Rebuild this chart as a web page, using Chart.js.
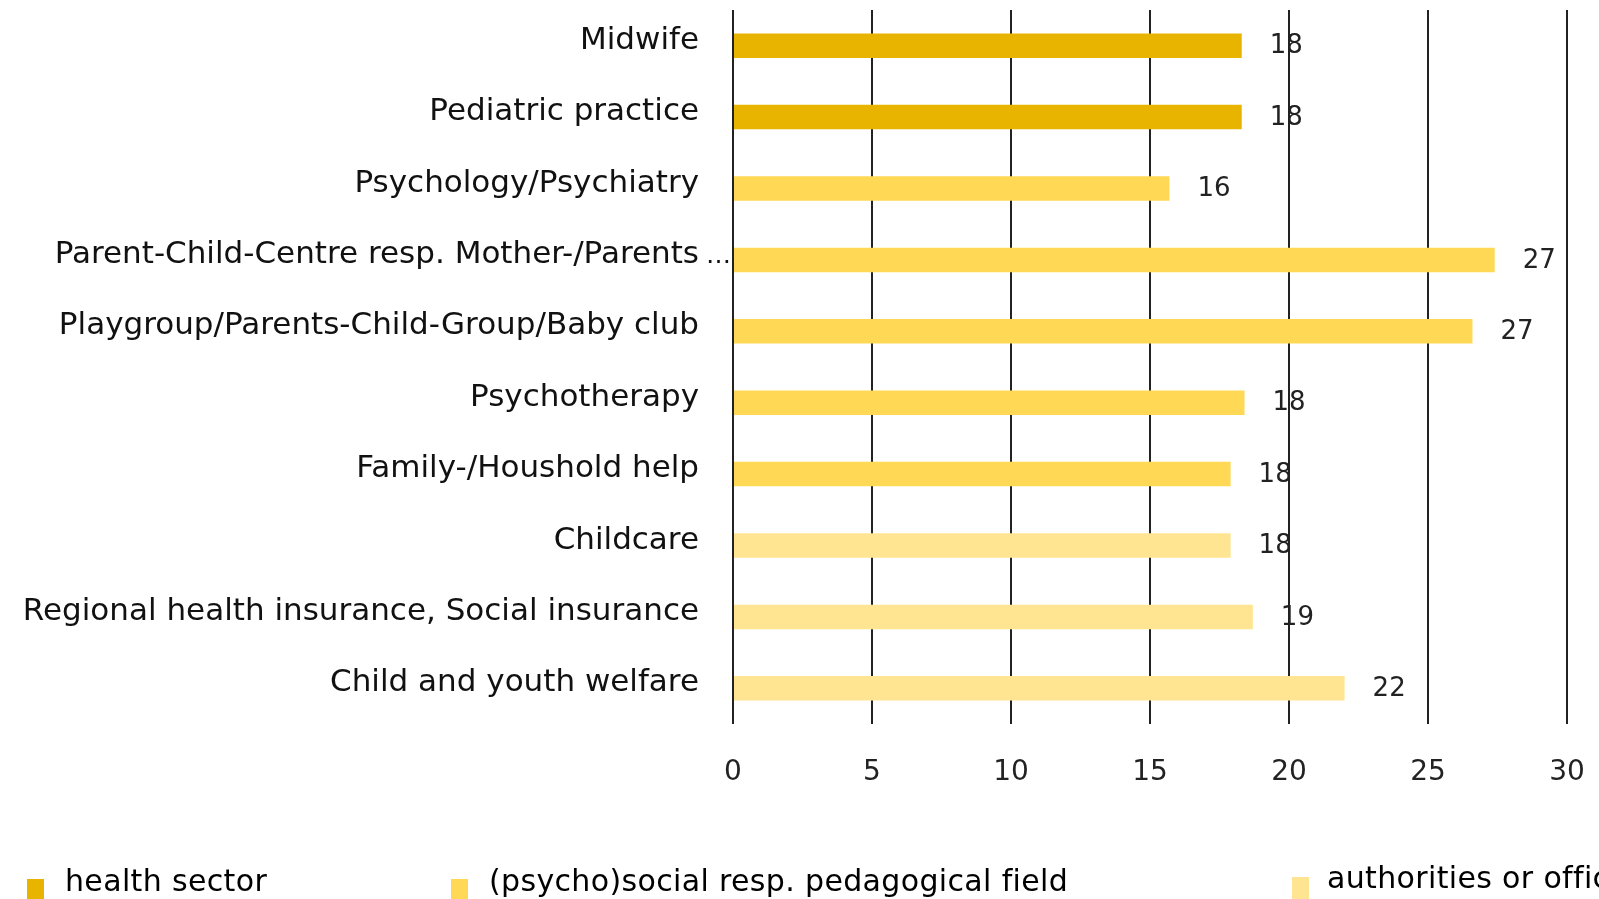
<!DOCTYPE html>
<html>
<head>
<meta charset="utf-8">
<title>Contact points</title>
<script src="https://cdn.jsdelivr.net/npm/chart.js@4.4.1/dist/chart.umd.min.js"></script>
<style>
    html, body {
        margin: 0;
        padding: 0;
        background: #ffffff;
        overflow: hidden;
        width: 1599px;
        height: 899px;
    }
    #wrap {
        position: relative;
        width: 1599px;
        height: 899px;
        overflow: hidden;
    }
    #chartCanvas {
        position: absolute;
        left: 0;
        top: 0;
    }
    .legend-item {
        position: absolute;
        white-space: nowrap;
        font-family: "DejaVu Sans", sans-serif;
        font-size: 30px;
        line-height: 30px;
        letter-spacing: 0.35px;
        color: #000;
    }
    .legend-box {
        position: absolute;
        width: 17px;
        height: 22px;
    }
</style>
</head>
<body>
<div id="wrap">
    <canvas id="chartCanvas" width="1599" height="899"></canvas>
    <div id="legend"></div>
</div>
<script>
// Categories, top to bottom
const categories = [
    'Midwife',
    'Pediatric practice',
    'Psychology/Psychiatry',
    'Parent-Child-Centre resp. Mother-/Parents\u2026',
    'Playgroup/Parents-Child-Group/Baby club',
    'Psychotherapy',
    'Family-/Houshold help',
    'Childcare',
    'Regional health insurance, Social insurance',
    'Child and youth welfare'
];

// Bar values
const values = [18.3, 18.3, 15.7, 27.4, 26.6, 18.4, 17.9, 17.9, 18.7, 22.0];

// Which field each category belongs to (index into groupNames)
const groupOf = [0, 0, 1, 1, 1, 1, 1, 2, 2, 2];

// Legend entries and their colours
const groupNames = ['health sector', '(psycho)social resp. pedagogical field', 'authorities or offices'];
const groupColors = ['#E8B400', '#FFD955', '#FFE591'];

// X axis ticks
const xTicks = [0, 5, 10, 15, 20, 25, 30];

const labelPad = 26;

/**
 * Draw the rounded value to the right of each bar
 */
const valueLabelPlugin = {
    id: 'valueLabels',
    afterDatasetsDraw(chart) {
        const ctx = chart.ctx;
        const meta = chart.getDatasetMeta(0);
        ctx.save();
        ctx.font = '26px "DejaVu Sans"';
        ctx.fillStyle = '#222';
        ctx.textAlign = 'left';
        ctx.textBaseline = 'middle';
        meta.data.forEach((bar, i) => {
            ctx.fillText(String(Math.round(values[i])), bar.x + 28, bar.y + 1);
        });
        ctx.restore();
    }
};

/**
 * Labels that were cut with an ellipsis: the dots run past the label edge
 */
const ellipsisPlugin = {
    id: 'ellipsis',
    afterDraw(chart) {
        const yScale = chart.scales.y;
        const ctx = chart.ctx;
        ctx.save();
        ctx.font = '25px "DejaVu Sans"';
        ctx.fillStyle = '#111';
        ctx.textAlign = 'left';
        ctx.textBaseline = 'alphabetic';
        categories.forEach((label, i) => {
            if (label.endsWith('\u2026')) {
                const y = yScale.getPixelForValue(i) + 3;
                ctx.fillText('\u2026', yScale.right - labelPad - 1, y);
            }
        });
        ctx.restore();
    }
};

const ctx = document.getElementById('chartCanvas');

new Chart(ctx, {
    type: 'bar',
    data: {
        labels: categories,
        datasets: [{
            data: values,
            backgroundColor: groupOf.map(g => groupColors[g]),
            borderWidth: 0,
            categoryPercentage: 1.0,
            barPercentage: 0.343
        }]
    },
    options: {
        indexAxis: 'y',
        responsive: false,
        animation: false,
        layout: {
            padding: { top: 10, right: 32, bottom: 95, left: 0 }
        },
        plugins: {
            legend: { display: false },
            tooltip: { enabled: false }
        },
        scales: {
            x: {
                min: xTicks[0],
                max: xTicks[xTicks.length - 1],
                afterBuildTicks: function(scale) {
                    scale.ticks = xTicks.map(v => ({ value: v }));
                },
                afterFit: function(scale) {
                    scale.height = 80;
                    scale.paddingLeft = 0;
                    scale.paddingRight = 0;
                },
                ticks: {
                    padding: 32,
                    color: '#222',
                    font: { family: 'DejaVu Sans', size: 28 }
                },
                grid: {
                    color: '#222',
                    lineWidth: 2,
                    drawTicks: false
                },
                border: { display: false }
            },
            y: {
                afterFit: function(scale) {
                    scale.width = 733;
                    scale.paddingTop = 0;
                    scale.paddingBottom = 0;
                },
                ticks: {
                    padding: labelPad,
                    labelOffset: -5,
                    color: '#111',
                    font: { family: 'DejaVu Sans', size: 31 },
                    callback: function(value) {
                        return categories[value].replace(/\u2026$/, '');
                    }
                },
                grid: { display: false },
                border: { display: false }
            }
        }
    },
    plugins: [valueLabelPlugin, ellipsisPlugin]
});

/**
 * Build the legend row along the bottom edge
 */
function buildLegend() {
    const legend = document.getElementById('legend');
    const boxLeft = [27, 451, 1292];
    const textLeft = [65, 489, 1327];
    const rowTop = [879, 879, 877];
    const textTop = [866, 866, 863];
    groupNames.forEach((name, i) => {
        const box = document.createElement('div');
        box.className = 'legend-box';
        box.style.left = boxLeft[i] + 'px';
        box.style.top = rowTop[i] + 'px';
        box.style.background = groupColors[i];
        legend.appendChild(box);

        const text = document.createElement('div');
        text.className = 'legend-item';
        text.style.left = textLeft[i] + 'px';
        text.style.top = textTop[i] + 'px';
        text.textContent = name;
        legend.appendChild(text);
    });
}

buildLegend();
</script>
</body>
</html>
